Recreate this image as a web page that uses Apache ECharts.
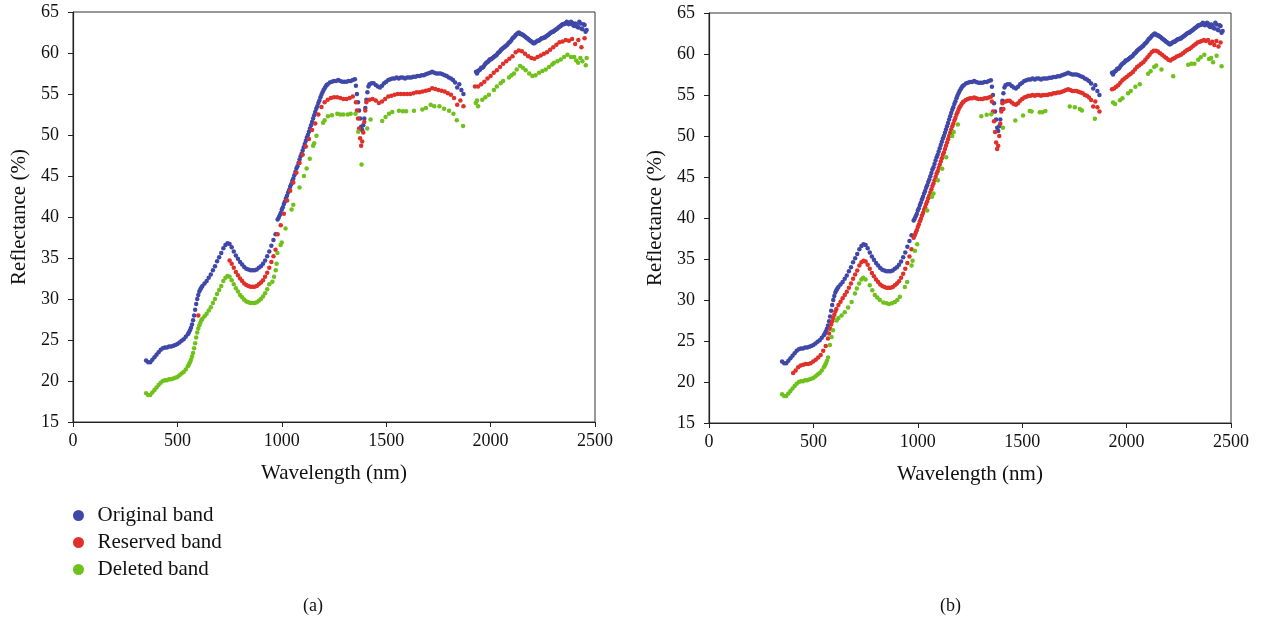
<!DOCTYPE html>
<html>
<head>
<meta charset="utf-8">
<script src="https://cdn.jsdelivr.net/npm/echarts@6/dist/echarts.min.js"></script>
<style>
  html, body { margin: 0; padding: 0; background: #fff; }
  #chart { width: 1267px; height: 622px; }
</style>
</head>
<body>
<div id="chart"></div>
<script>
// segments: [start wavelength, band step, reflectance values]
// Original band (same in both panels)
const orig1 = [350, 10, [22.5, 22.3, 22.3, 22.6, 22.9, 23.2, 23.5, 23.8, 24.0, 24.1,
  24.1, 24.2, 24.2, 24.3, 24.4, 24.5, 24.7, 24.9, 25.1, 25.4, 25.7]]
const orig2 = [555, 5, [25.9, 26.2, 26.5, 26.9, 27.4, 28.0, 28.7, 29.4, 30.0, 30.5, 30.9, 31.2, 31.4]]
const orig3 = [620, 10, [31.6, 31.9, 32.2, 32.6, 33.0, 33.5, 34.0, 34.6, 35.1, 35.6,
  36.2, 36.6, 36.8, 36.7, 36.3, 35.8, 35.3, 34.9, 34.5, 34.2,
  33.9, 33.7, 33.6, 33.5, 33.5, 33.5, 33.6, 33.8, 34.0, 34.3,
  34.7, 35.2, 35.8, 36.5, 37.2, 37.9]]
const orig4 = [980, 5, [39.7, 39.9, 40.2, 40.5, 40.9, 41.2, 41.6, 41.9, 42.3, 42.6,
  43.0, 43.3, 43.7, 44.0, 44.4, 44.7, 45.1, 45.5, 45.9, 46.2,
  46.6, 47.0, 47.4, 47.7, 48.1, 48.5, 48.9, 49.3, 49.7, 50.0,
  50.4, 50.8, 51.2, 51.6, 52.0, 52.4, 52.8, 53.2, 53.5, 53.9,
  54.2, 54.6, 54.9, 55.2, 55.5, 55.7, 55.9, 56.1, 56.2]]
const orig5 = [1230, 10, [56.4, 56.5, 56.6, 56.6, 56.7, 56.6, 56.5, 56.5, 56.5, 56.6, 56.6, 56.7, 56.8]]
const orig6 = [1355, 5, [56.0, 55.0, 54.0, 53.0, 52.0, 51.0, 50.6, 51.2, 52.0, 53.3, 54.3, 55.2, 55.9]]
const orig7 = [1420, 10, [56.2, 56.3, 56.3, 56.1, 55.9, 55.8, 56.0, 56.3, 56.5, 56.7,
  56.8, 56.9, 56.9, 57.0, 56.9, 57.0, 57.0, 56.9, 57.0, 57.0,
  57.0, 57.1, 57.1, 57.2, 57.2, 57.3, 57.3, 57.4, 57.5, 57.6,
  57.7, 57.6, 57.5, 57.5, 57.5, 57.4, 57.3, 57.2, 57.0, 56.9,
  56.7, 56.4, 55.8, 56.2, 55.5, 55.0]]
const orig8 = [1930, 10, [57.7, 57.8, 58.0, 58.2, 58.5, 58.8, 59.0, 59.2, 59.4, 59.6,
  59.8, 60.1, 60.4, 60.6, 60.8, 61.0, 61.3, 61.6, 61.9, 62.2,
  62.4, 62.4, 62.3, 62.1, 61.9, 61.7, 61.5, 61.3, 61.2, 61.4,
  61.5, 61.7, 61.8, 61.9, 62.1, 62.3, 62.5, 62.6, 62.8, 63.0,
  63.2, 63.4, 63.5, 63.6, 63.7, 63.6, 63.7, 63.3, 63.5, 63.1,
  63.6, 62.9, 63.4, 62.8]]
const orig9 = [1935, 10, [57.5, 57.9, 58.2, 58.3, 58.7, 58.9, 59.2, 59.3, 59.5, 59.7,
  60.0, 60.2, 60.5, 60.7, 60.9, 61.2, 61.4, 61.8, 62.0, 62.3,
  62.5, 62.3, 62.2, 62.0, 61.8, 61.6, 61.4, 61.2, 61.3, 61.5,
  61.6, 61.8, 61.9, 62.0, 62.2, 62.4, 62.6, 62.7, 62.9, 63.1,
  63.3, 63.5, 63.6, 63.8, 63.5, 63.8, 63.4, 63.6, 63.2, 63.8,
  63.0, 63.5, 62.6]]

// (a) Reserved band
const resA1 = [600, 10, [28.0]]
const resA2 = [750, 10, [34.7, 34.3, 33.8, 33.3, 32.9, 32.5, 32.2, 31.9, 31.7, 31.6,
  31.5, 31.5, 31.5, 31.6, 31.8, 32.0, 32.3, 32.7, 33.2, 33.8, 34.5, 35.2, 36.0]]
const resA3 = [980, 15, [37.9, 39.0, 40.4, 42.0, 43.2, 44.2, 45.4, 46.6, 47.6, 48.6,
  49.5, 50.6, 51.4, 52.5, 53.4, 54.0, 54.3, 54.5, 54.6, 54.6,
  54.5, 54.4, 54.4, 54.5, 54.7]]
const resA4 = [1355, 5, [54.0, 53.0, 52.0, 50.8, 49.6, 48.7, 49.2, 50.3, 51.6, 53.0, 54.0]]
const resA5 = [1420, 15, [54.3, 54.4, 54.2, 53.9, 54.1, 54.4, 54.7, 54.8, 54.9, 55.0,
  55.0, 55.0, 55.0, 55.0, 55.1, 55.2, 55.2, 55.3, 55.4, 55.5,
  55.7, 55.6, 55.5, 55.4, 55.3, 55.1, 54.9, 54.5, 53.7, 54.2, 53.5]]
const resA6 = [1925, 15, [55.9, 55.9, 56.2, 56.5, 56.9, 57.2, 57.6, 57.9, 58.3, 58.7,
  59.0, 59.3, 59.6, 60.1, 60.3, 60.2, 59.9, 59.6, 59.4, 59.3,
  59.5, 59.7, 59.9, 60.1, 60.4, 60.7, 61.0, 61.3, 61.4, 61.6,
  61.5, 61.7, 61.1, 61.6, 60.7, 61.8]]

// (a) Deleted band
const delA1 = [350, 10, [18.5, 18.3, 18.3, 18.6, 18.9, 19.2, 19.5, 19.8, 20.0, 20.1,
  20.1, 20.2, 20.2, 20.3, 20.4, 20.5, 20.7, 20.9, 21.1, 21.4, 21.8]]
const delA2 = [555, 5, [22.0, 22.3, 22.6, 23.0, 23.4, 24.0, 24.6, 25.3, 25.9, 26.4, 26.8, 27.1, 27.4]]
const delA3 = [620, 10, [27.6, 27.9, 28.2, 28.6, 29.0, 29.5, 30.0, 30.6, 31.1, 31.6,
  32.2, 32.6, 32.8, 32.7, 32.3, 31.8, 31.3, 30.9, 30.5, 30.2,
  29.9, 29.7, 29.6, 29.5, 29.5, 29.5, 29.6, 29.8, 30.0, 30.3,
  30.7, 31.2, 31.8]]
const delAPts = [[955, 32.1], [963, 32.7], [971, 33.5], [975, 34.3], [979, 35.6], [994, 36.6],
  [1000, 36.9], [1018, 38.6], [1047, 40.9], [1055, 41.5], [1085, 43.6], [1106, 45.0],
  [1119, 45.9], [1134, 47.1], [1150, 48.7], [1155, 49.0], [1166, 49.9], [1198, 51.5],
  [1205, 51.8], [1221, 52.3], [1240, 52.4], [1266, 52.6], [1280, 52.5], [1295, 52.5],
  [1316, 52.5], [1330, 52.6], [1353, 52.6], [1366, 50.4], [1382, 46.4], [1409, 50.8],
  [1425, 51.9], [1481, 51.7], [1497, 52.2], [1513, 52.6], [1529, 52.8], [1561, 52.95],
  [1580, 52.9], [1595, 52.9], [1633, 52.95], [1673, 53.1], [1690, 53.3], [1713, 53.7],
  [1730, 53.5], [1755, 53.5], [1777, 53.2], [1801, 52.95], [1822, 52.6], [1838, 51.8],
  [1868, 51.1],
  [1929, 53.9], [1935, 54.2], [1940, 53.5], [1960, 54.3], [1975, 54.6], [1992, 54.9],
  [2016, 55.5], [2030, 55.9], [2048, 56.3], [2060, 56.6], [2088, 57.0], [2100, 57.3],
  [2112, 57.5], [2125, 58.0], [2141, 58.4], [2155, 58.2], [2168, 57.9], [2185, 57.5],
  [2200, 57.2], [2215, 57.3], [2232, 57.6], [2248, 57.8], [2264, 58.0], [2280, 58.3],
  [2295, 58.6], [2304, 58.8], [2320, 59.0], [2336, 59.2], [2352, 59.5], [2368, 59.8],
  [2385, 59.5], [2400, 59.5], [2410, 59.1], [2419, 58.8], [2430, 59.4], [2440, 59.0],
  [2456, 58.5], [2460, 59.4]]

// (b) Reserved band
const resB1 = [403, 12, [21.1, 21.4, 21.8, 22.0, 22.1, 22.2, 22.2, 22.3, 22.5, 22.7, 23.0, 23.3, 23.8, 24.4]]
const resB2 = [570, 5, [25.3, 25.9, 26.5, 27.0, 27.4, 27.8, 28.2, 28.6, 28.9]]
const resB3 = [620, 10, [29.4, 29.8, 30.2, 30.6, 31.0, 31.5, 32.0, 32.6, 33.1, 33.6,
  34.2, 34.6, 34.8, 34.7, 34.3, 33.8, 33.3, 32.9, 32.5, 32.2,
  31.9, 31.7, 31.6, 31.5, 31.5, 31.5, 31.6, 31.8, 32.0, 32.3,
  32.7, 33.2, 33.8, 34.5, 35.3, 36.2]]
const resB4 = [980, 5, [37.6, 37.9, 38.2, 38.5, 38.9, 39.2, 39.6, 39.9, 40.3, 40.6,
  41.0, 41.3, 41.7, 42.0, 42.4, 42.7, 43.1, 43.5, 43.9, 44.2,
  44.6, 45.0, 45.4, 45.7, 46.1, 46.5, 46.9, 47.3, 47.7, 48.0,
  48.4, 48.8, 49.2, 49.6, 50.0, 50.4, 50.8, 51.2, 51.5, 51.9,
  52.2, 52.6, 52.9, 53.2, 53.5, 53.7, 53.9, 54.1, 54.2]]
const resB5 = [1230, 10, [54.4, 54.5, 54.6, 54.6, 54.7, 54.6, 54.5, 54.5, 54.5, 54.6, 54.6, 54.7, 54.8]]
const resB6 = [1355, 5, [54.2, 53.0, 51.8, 50.5, 49.2, 48.4, 48.8, 50.0, 51.5, 53.0, 54.0]]
const resB7 = [1410, 10, [53.3, 54.2, 54.3, 54.3, 54.1, 53.9, 53.8, 54.0, 54.3, 54.5,
  54.7, 54.8, 54.9, 54.9, 55.0, 54.9, 55.0, 55.0, 54.9, 55.0,
  55.0, 55.0, 55.1, 55.1, 55.2, 55.2, 55.3, 55.3, 55.4, 55.5,
  55.6, 55.7, 55.6, 55.5, 55.5, 55.5, 55.4, 55.3, 55.2, 55.0,
  54.9, 54.7, 54.4, 53.6, 54.2, 53.5, 53.0]]
const resB8 = [1930, 10, [55.7, 55.8, 56.0, 56.2, 56.5, 56.8, 57.0, 57.2, 57.4, 57.6,
  57.8, 58.1, 58.4, 58.6, 58.8, 59.0, 59.3, 59.6, 59.9, 60.2,
  60.4, 60.4, 60.3, 60.1, 59.9, 59.7, 59.5, 59.3, 59.2, 59.4,
  59.5, 59.7, 59.8, 59.9, 60.1, 60.3, 60.5, 60.6, 60.8, 61.0,
  61.2, 61.4, 61.5, 61.6, 61.7, 61.6, 61.7, 61.3, 61.5, 61.1,
  61.6, 60.9, 61.4]]

// (b) Deleted band
const delB1 = [350, 10, [18.5, 18.3, 18.3, 18.6, 18.9, 19.2, 19.5, 19.8, 20.0, 20.1,
  20.1, 20.2, 20.2, 20.3, 20.4, 20.5, 20.7, 20.9, 21.1, 21.4, 21.8]]
const delB2 = [555, 5, [22.0, 22.3, 22.6, 23.0]]
const delBPts = [[579, 24.5], [587, 25.5], [594, 26.3], [611, 27.5], [620, 27.8], [635, 28.1],
  [650, 28.5], [666, 29.1], [683, 29.75], [699, 30.8], [708, 31.4], [719, 32.0],
  [730, 32.5], [738, 32.7], [750, 32.5], [770, 31.8], [782, 31.2], [794, 30.6],
  [806, 30.3], [818, 30.0], [835, 29.7], [850, 29.6], [862, 29.5], [876, 29.6],
  [890, 29.75], [902, 30.0], [914, 30.4], [938, 31.6], [949, 32.2], [970, 34.2],
  [975, 34.8], [986, 36.0], [997, 36.8], [1045, 40.9], [1068, 42.6], [1075, 43.0],
  [1096, 44.6], [1117, 46.0], [1136, 47.4], [1165, 50.0], [1172, 50.5], [1192, 51.4],
  [1304, 52.4], [1330, 52.6], [1352, 52.65], [1408, 51.0], [1467, 51.9], [1504, 52.5],
  [1536, 53.05], [1545, 53.0], [1584, 52.9], [1597, 52.9], [1611, 53.05], [1728, 53.6],
  [1752, 53.5], [1776, 53.3], [1786, 53.1], [1848, 52.1],
  [1935, 54.1], [1945, 53.9], [1968, 54.35], [1980, 54.6], [2007, 55.2], [2020, 55.5],
  [2042, 56.0], [2063, 56.3], [2103, 57.6], [2115, 57.9], [2132, 58.4], [2142, 58.6],
  [2167, 58.1], [2223, 57.3], [2295, 58.7], [2310, 58.8], [2325, 58.8], [2343, 59.3],
  [2355, 59.6], [2372, 59.9], [2395, 59.4], [2405, 59.5], [2414, 59.0], [2431, 59.8],
  [2455, 58.5]]

const seriesNames = ['Original band', 'Reserved band', 'Deleted band']
const colors = ['#3f48a8', '#e0302a', '#6fc11b']

function expand (segs) {
  let out = []
  segs.forEach(s => {
    s[2].forEach((v, i) => out.push([s[0] + i * s[1], v]))
  })
  return out
}

const origData = expand([orig1, orig2, orig3, orig4, orig5, orig6, orig7, orig8, orig9])
const panels = [
  [origData,
    expand([resA1, resA2, resA3, resA4, resA5, resA6]),
    expand([delA1, delA2, delA3]).concat(delAPts)],
  [origData,
    expand([resB1, resB2, resB3, resB4, resB5, resB6, resB7, resB8]),
    expand([delB1, delB2]).concat(delBPts)]
]

const font = '"Liberation Serif", "DejaVu Serif", serif'
const grids = [
  { left: 73, top: 12, width: 522, height: 410 },
  { left: 709, top: 13, width: 522, height: 410 }
]

let xAxes = []
let yAxes = []
let series = []
grids.forEach((g, k) => {
  xAxes.push({
    gridIndex: k,
    type: 'value',
    min: 0,
    max: 2500,
    interval: 500,
    name: 'Wavelength (nm)',
    nameLocation: 'middle',
    nameGap: 41,
    nameTextStyle: { fontFamily: font, fontSize: 21, color: '#111' },
    axisLine: { lineStyle: { color: '#222', width: 1.2 } },
    axisTick: { length: 5, lineStyle: { color: '#222' } },
    axisLabel: { fontFamily: font, fontSize: 18, color: '#111', margin: 10, formatter: v => String(v) },
    splitLine: { show: false }
  })
  yAxes.push({
    gridIndex: k,
    type: 'value',
    min: 15,
    max: 65,
    interval: 5,
    name: 'Reflectance (%)',
    nameLocation: 'middle',
    nameGap: 43,
    nameTextStyle: { fontFamily: font, fontSize: 21, color: '#111' },
    axisLine: { show: true, lineStyle: { color: '#222', width: 1.2 } },
    axisTick: { show: true, length: 5, lineStyle: { color: '#222' } },
    axisLabel: { fontFamily: font, fontSize: 18, color: '#111', margin: 14 },
    splitLine: { show: false }
  })
  panels[k].forEach((d, j) => {
    series.push({
      name: seriesNames[j],
      type: 'scatter',
      xAxisIndex: k,
      yAxisIndex: k,
      data: d,
      symbolSize: 4.5,
      silent: true,
      itemStyle: { color: colors[j], opacity: 1 }
    })
  })
})

const chart = echarts.init(document.getElementById('chart'))
chart.setOption({
  animation: false,
  color: colors,
  grid: grids.map(g => Object.assign({ show: true, borderColor: '#333', borderWidth: 1, backgroundColor: 'transparent' }, g)),
  xAxis: xAxes,
  yAxis: yAxes,
  legend: {
    data: seriesNames,
    orient: 'vertical',
    left: 68,
    top: 500,
    icon: 'circle',
    itemWidth: 28,
    itemHeight: 11,
    itemGap: 6,
    textStyle: { fontFamily: font, fontSize: 21, color: '#111', lineHeight: 21 }
  },
  graphic: [
    { type: 'text', left: 303, top: 597, style: { text: '(a)', font: '18px ' + font, fill: '#111' } },
    { type: 'text', left: 940, top: 597, style: { text: '(b)', font: '18px ' + font, fill: '#111' } }
  ],
  series: series
})
</script>
</body>
</html>
